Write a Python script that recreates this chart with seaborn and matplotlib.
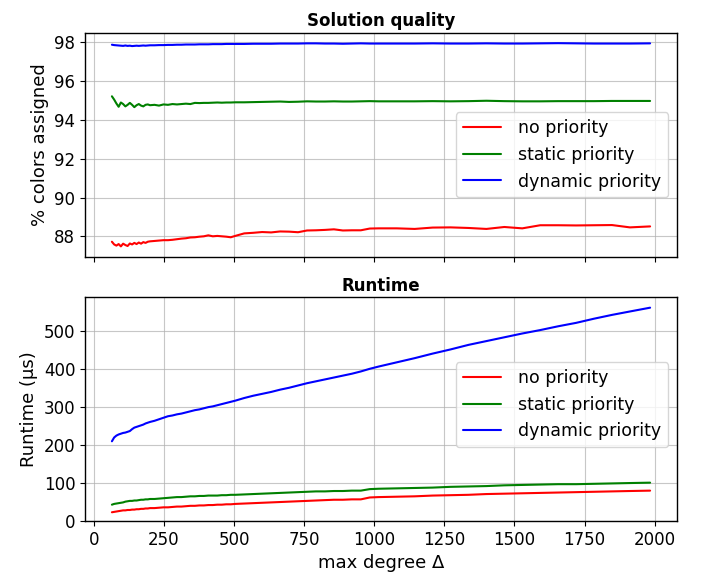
import numpy as np
import pandas as pd
import matplotlib
matplotlib.use("Agg")
import matplotlib.pyplot as plt
import seaborn as sns

# max degree of the test graphs
degree = [
    64, 72, 80, 88, 96, 104, 112, 120, 128, 136, 144, 152, 160, 168, 176, 184, 192, 200,
    216, 232, 248, 264, 280, 296, 312, 328, 344, 360, 376, 392, 408, 424, 440, 456, 472, 488, 504,
    536, 568, 600, 632, 664, 696, 728, 760, 792, 824, 856, 888, 920, 952, 984, 1016,
    1080, 1144, 1208, 1272, 1336, 1400, 1464, 1528, 1592, 1656, 1720, 1784, 1848, 1912, 1984,
]

# % colors assigned
quality_none = [
    87.72, 87.58, 87.52, 87.60, 87.48, 87.62, 87.55, 87.50, 87.63, 87.58, 87.66, 87.60, 87.68, 87.62, 87.70, 87.66, 87.72, 87.74,
    87.76, 87.78, 87.80, 87.80, 87.82, 87.85, 87.88, 87.90, 87.94, 87.95, 87.98, 88.00, 88.05, 88.00, 88.02, 88.00, 87.98, 87.95, 88.02,
    88.15, 88.18, 88.22, 88.20, 88.25, 88.24, 88.21, 88.30, 88.31, 88.33, 88.36, 88.30, 88.31, 88.31, 88.40, 88.41,
    88.41, 88.38, 88.45, 88.46, 88.43, 88.38, 88.48, 88.41, 88.57, 88.57, 88.56, 88.57, 88.58, 88.46, 88.51,
]
quality_static = [
    95.22, 95.05, 94.85, 94.68, 94.90, 94.82, 94.70, 94.78, 94.88, 94.78, 94.66, 94.76, 94.82, 94.74, 94.70, 94.78, 94.80, 94.76,
    94.78, 94.74, 94.80, 94.78, 94.82, 94.80, 94.82, 94.84, 94.82, 94.88, 94.87, 94.88, 94.88, 94.89, 94.90, 94.89, 94.90, 94.90, 94.91,
    94.91, 94.92, 94.93, 94.94, 94.95, 94.93, 94.94, 94.96, 94.95, 94.95, 94.96, 94.95, 94.95, 94.96, 94.97, 94.96,
    94.96, 94.96, 94.97, 94.96, 94.97, 94.99, 94.97, 94.96, 94.96, 94.97, 94.97, 94.97, 94.98, 94.98, 94.98,
]
quality_dynamic = [
    97.88, 97.86, 97.85, 97.84, 97.83, 97.82, 97.84, 97.82, 97.83, 97.81, 97.82, 97.83, 97.82, 97.83, 97.84, 97.83, 97.84, 97.85,
    97.85, 97.86, 97.86, 97.87, 97.87, 97.88, 97.88, 97.89, 97.89, 97.89, 97.90, 97.90, 97.90, 97.91, 97.91, 97.91, 97.92, 97.92, 97.92,
    97.92, 97.93, 97.93, 97.93, 97.94, 97.94, 97.94, 97.95, 97.95, 97.94, 97.94, 97.93, 97.94, 97.95, 97.94, 97.94,
    97.94, 97.94, 97.95, 97.94, 97.94, 97.95, 97.94, 97.94, 97.95, 97.96, 97.95, 97.94, 97.94, 97.94, 97.95,
]

# runtime in microseconds
runtime_none = [
    23, 24, 25, 26, 27, 28, 28, 29, 29, 30, 30, 31, 31, 32, 32, 33, 33, 34,
    34, 35, 36, 36, 37, 38, 38, 39, 40, 40, 41, 41, 42, 42, 43, 43, 44, 44, 45,
    46, 47, 48, 49, 50, 51, 52, 53, 54, 55, 56, 56, 57, 57, 62, 63,
    64, 65, 67, 68, 69, 71, 72, 73, 74, 75, 76, 77, 78, 79, 80,
]
runtime_static = [
    43, 45, 46, 47, 48, 49, 51, 52, 53, 53, 54, 54, 55, 56, 56, 57, 57, 58,
    58, 59, 60, 61, 62, 63, 63, 64, 65, 65, 66, 66, 67, 67, 67, 68, 68, 69, 69,
    70, 71, 72, 73, 74, 75, 76, 77, 78, 78, 79, 79, 80, 80, 84, 85,
    86, 87, 88, 90, 91, 92, 94, 95, 96, 97, 97, 98, 99, 100, 101,
]
runtime_dynamic = [
    210, 220, 225, 228, 230, 232, 233, 235, 237, 242, 246, 248, 250, 252, 254, 257, 259, 261,
    264, 268, 272, 276, 278, 281, 283, 286, 289, 292, 294, 297, 300, 302, 305, 308, 311, 314, 317,
    324, 330, 335, 340, 346, 351, 357, 363, 368, 373, 378, 383, 388, 394, 401, 407,
    418, 429, 441, 452, 464, 474, 484, 494, 503, 513, 522, 533, 543, 552, 562,
]

methods = ["no priority", "static priority", "dynamic priority"]
colors = ["red", "green", "blue"]


def long_table(series):
    frames = []
    for name, vals in zip(methods, series):
        frames.append(pd.DataFrame({"degree": degree, "value": vals, "method": name}))
    return pd.concat(frames, ignore_index=True)


quality = long_table([quality_none, quality_static, quality_dynamic])
runtime = long_table([runtime_none, runtime_static, runtime_dynamic])

sns.set_style("ticks")
plt.rcParams["font.family"] = ["DejaVu Sans"]
plt.rcParams["font.size"] = 12
for key in ("text.color", "axes.labelcolor", "xtick.color", "ytick.color"):
    plt.rcParams[key] = "black"

fig, (ax1, ax2) = plt.subplots(2, 1, figsize=(7.01, 5.74), dpi=100, sharex=True)
fig.subplots_adjust(left=85 / 701, right=677 / 701, top=1 - 33 / 574,
                    bottom=1 - 521 / 574, hspace=0.183)

palette = dict(zip(methods, colors))
sns.lineplot(data=quality, x="degree", y="value", hue="method", palette=palette,
             ax=ax1, linewidth=1.5, estimator=None)
sns.lineplot(data=runtime, x="degree", y="value", hue="method", palette=palette,
             ax=ax2, linewidth=1.5, estimator=None)

ax1.set_title("Solution quality", fontsize=12, fontweight="bold", pad=5)
ax1.set_ylabel("% colors assigned", fontsize=13)
ax1.set_xlabel("")
ax2.set_title("Runtime", fontsize=12, fontweight="bold", pad=5)
ax2.set_ylabel("Runtime (µs)", fontsize=13)
ax2.set_xlabel("max degree Δ", fontsize=13)
ax2.set_ylim(bottom=0)
ax2.set_xticks([0, 250, 500, 750, 1000, 1250, 1500, 1750, 2000])

for ax, yc in ((ax1, 0.455), (ax2, 0.52)):
    ax.grid(True, color="#b0b0b0", linewidth=0.8, alpha=0.7)
    ax.tick_params(labelsize=12)
    ax.legend(title=None, loc="center right", bbox_to_anchor=(1.0, yc),
              fontsize=12.5, handlelength=2.2, handletextpad=1.0)
    for s in ax.spines.values():
        s.set_color("black")
        s.set_linewidth(1.0)

fig.savefig("out.png", dpi=100)
